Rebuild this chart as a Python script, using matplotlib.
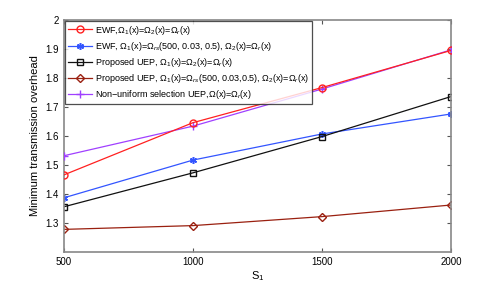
import numpy as np
import matplotlib.pyplot as plt

plt.rcParams['font.family'] = ['Liberation Sans', 'DejaVu Sans']
plt.rcParams['mathtext.fontset'] = 'custom'
plt.rcParams['mathtext.rm'] = 'Liberation Sans'
plt.rcParams['mathtext.it'] = 'Liberation Sans:italic'

s1 = [500, 1000, 1500, 2000]
ewf = [1.466, 1.646, 1.767, 1.895]
ewf_rs = [1.387, 1.517, 1.607, 1.676]
uep = [1.356, 1.473, 1.598, 1.736]
uep_rs = [1.278, 1.291, 1.322, 1.362]
nonuni = [1.532, 1.634, 1.762, 1.897]

labels = [
    r'EWF,Ω$_1$(x)=Ω$_2$(x)=Ω$_r$(x)',
    r'EWF, Ω$_1$(x)=Ω$_{rs}$(500, 0.03, 0.5), Ω$_2$(x)=Ω$_r$(x)',
    r'Proposed UEP, Ω$_1$(x)=Ω$_2$(x)=Ω$_r$(x)',
    r'Proposed UEP, Ω$_1$(x)=Ω$_{rs}$(500, 0.03,0.5), Ω$_2$(x)=Ω$_r$(x)',
    r'Non$-$uniform selection UEP,Ω(x)=Ω$_r$(x)',
]

fig = plt.figure(figsize=(4.98, 2.85), dpi=100)
ax = fig.add_axes([0.1285, 0.1158, 0.7771, 0.8140])

ax.plot(s1, ewf, '-o', color='#ff2020', mfc='none', ms=5, lw=0.9, label=labels[0], zorder=5)
ax.plot(s1, ewf_rs, '-', marker=(6, 2, 0), color='#3355ff', ms=5, mew=1.1, lw=0.9, label=labels[1])
ax.plot(s1, uep, '-s', color='#111111', mfc='none', ms=4.5, lw=0.9, label=labels[2])
ax.plot(s1, uep_rs, '-D', color='#9a2010', mfc='none', ms=4.5, lw=0.9, label=labels[3])
ax.plot(s1, nonuni, '-+', color='#a040ff', ms=6, lw=0.9, label=labels[4], zorder=4)

ax.set_xlim(500, 2000)
ax.set_ylim(1.2, 2.0)
ax.set_xticks([500, 1000, 1500, 2000])
ax.set_yticks([1.3, 1.4, 1.5, 1.6, 1.7, 1.8, 1.9, 2.0])
ax.set_yticklabels(['1.3', '1.4', '1.5', '1.6', '1.7', '1.8', '1.9', '2'])
ax.tick_params(direction='in', top=True, right=True, labelsize=7, length=3, color='#555555')
for sp in ax.spines.values():
    sp.set_color('#888888')
    sp.set_linewidth(1.2)

ax.set_xlabel('S$_1$', fontsize=8, labelpad=2)
ax.set_ylabel('Minimum transmission overhead', fontsize=8, labelpad=4)

leg = ax.legend(loc='upper left', fontsize=6.5, frameon=True, fancybox=False,
                borderaxespad=0.1, handlelength=2.7, labelspacing=0.35,
                borderpad=0.3, handletextpad=0.3)
leg.get_frame().set_edgecolor('#222222')
leg.get_frame().set_linewidth(0.9)

plt.savefig('out.png', dpi=100)
